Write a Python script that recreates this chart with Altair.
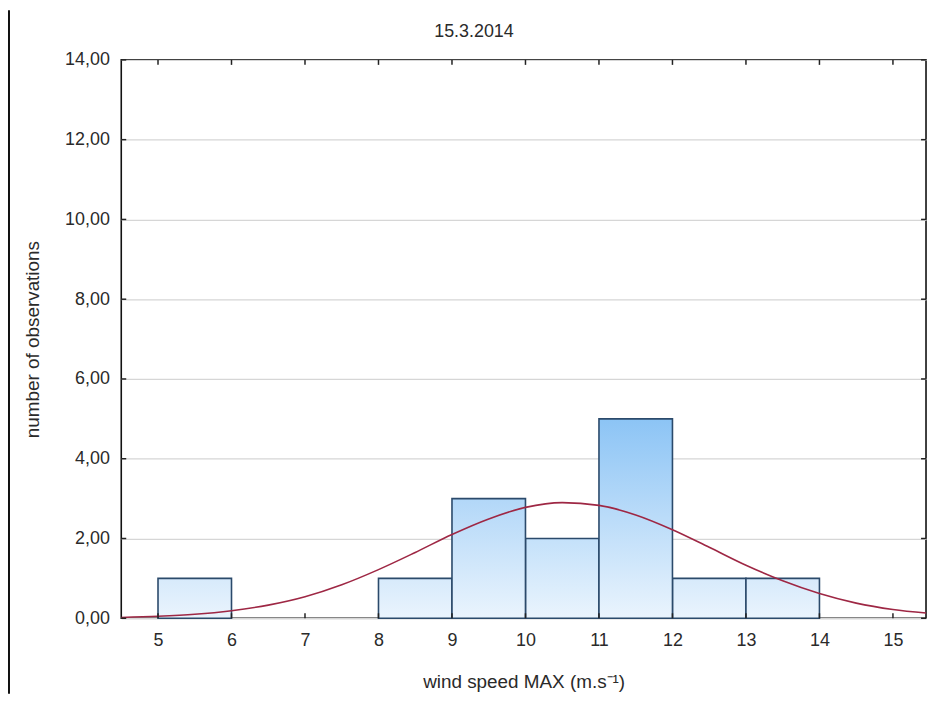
import altair as alt
import pandas as pd

# Histogram bins (wind speed MAX, m.s-1) and counts
bin_start = [5, 8, 9, 10, 11, 12, 13]
bin_end = [6, 9, 10, 11, 12, 13, 14]
counts = [1, 1, 3, 2, 5, 1, 1]

# Fitted normal curve
curve_x = [4.5, 5.0, 5.5, 6.0, 6.5, 7.0, 7.5, 8.0, 8.5, 9.0, 9.5, 10.0, 10.5,
           11.0, 11.5, 12.0, 12.5, 13.0, 13.5, 14.0, 14.5, 15.0, 15.45]
curve_y = [0.02, 0.05, 0.10, 0.19, 0.33, 0.54, 0.84, 1.22, 1.65, 2.10, 2.49, 2.78, 2.90,
           2.83, 2.59, 2.22, 1.78, 1.33, 0.94, 0.62, 0.38, 0.22, 0.13]

x_ticks = list(range(5, 16))
y_ticks = [0, 2, 4, 6, 8, 10, 12, 14]
title_text = ["15.3.2014"]

bars = pd.DataFrame({"start": bin_start, "end": bin_end, "count": counts})
curve = pd.DataFrame({"x": curve_x, "y": curve_y})
title_df = pd.DataFrame({"t": title_text})
xt_df = pd.DataFrame({"v": x_ticks})
yt_df = pd.DataFrame({"v": y_ticks})

W, H = 810, 562
xs = alt.Scale(domain=[4.5, 15.45], nice=False, zero=False)
ys = alt.Scale(domain=[0, 14], nice=False)

bottom_rgb = (234, 244, 253)
top_rgb = (140, 196, 245)


def mix(t):
    t = max(0.0, min(1.0, t))
    c = [round(b + (tp - b) * t) for b, tp in zip(bottom_rgb, top_rgb)]
    return "#%02x%02x%02x" % tuple(c)


FONT = "Liberation Sans"
FS = 18
xaxis = alt.Axis(values=x_ticks, title="wind speed MAX (m.s⁻¹)", grid=False, domain=False,
                 ticks=False, labelPadding=13, titlePadding=24, labelFontSize=FS,
                 titleFontSize=FS + 1, titleFontWeight="normal", labelColor="#2a2a2a",
                 titleColor="#2a2a2a", labelFont=FONT, titleFont=FONT)
yaxis = alt.Axis(values=y_ticks, title="number of observations", grid=True, gridColor="#d6d6d6",
                 gridWidth=1.3, domain=False, ticks=False, labelPadding=12, titlePadding=22,
                 labelExpr="replace(format(datum.value, '.2f'), '.', ',')",
                 labelFontSize=FS, titleFontSize=FS + 1, titleFontWeight="normal",
                 labelColor="#2a2a2a", titleColor="#2a2a2a",
                 labelFont=FONT, titleFont=FONT)

layers = []
for c in sorted(set(counts)):
    grad = alt.Gradient(gradient="linear",
                        stops=[alt.GradientStop(color=mix(c / 5.0), offset=0),
                               alt.GradientStop(color=mix(0.0), offset=1)],
                        x1=0, x2=0, y1=0, y2=1)
    layer = alt.Chart(bars).transform_filter(alt.datum["count"] == c).mark_rect(
        fill=grad, stroke="#2b4a6b", strokeWidth=1.6
    ).encode(
        x=alt.X("start:Q", scale=xs, axis=xaxis),
        x2="end:Q",
        y=alt.Y("count:Q", scale=ys, axis=yaxis),
        y2=alt.datum(0),
    )
    layers.append(layer)

line = alt.Chart(curve).mark_line(color="#9e2744", strokeWidth=1.6, interpolate="monotone").encode(
    x=alt.X("x:Q", scale=xs, axis=xaxis),
    y=alt.Y("y:Q", scale=ys, axis=yaxis),
)

# small inward tick marks on all four sides of the frame
tick_col = "#222"
xt_bottom = alt.Chart(xt_df).mark_rule(color=tick_col, strokeWidth=1.5).encode(
    x=alt.X("v:Q", scale=xs, axis=xaxis), y=alt.value(H), y2=alt.value(H - 5))
xt_top = alt.Chart(xt_df).mark_rule(color=tick_col, strokeWidth=1.5).encode(
    x=alt.X("v:Q", scale=xs, axis=xaxis), y=alt.value(0), y2=alt.value(5))
yt_left = alt.Chart(yt_df).mark_rule(color=tick_col, strokeWidth=1.5).encode(
    y=alt.Y("v:Q", scale=ys, axis=yaxis), x=alt.value(0), x2=alt.value(5))
yt_right = alt.Chart(yt_df).mark_rule(color=tick_col, strokeWidth=1.5).encode(
    y=alt.Y("v:Q", scale=ys, axis=yaxis), x=alt.value(W), x2=alt.value(W - 5))

title = alt.Chart(title_df).mark_text(font=FONT, fontSize=FS, color="#2a2a2a",
                                      align="center", baseline="middle").encode(
    text="t:N", x=alt.value(355), y=alt.value(-28)
)

left_border = alt.Chart(title_df).mark_rule(color="#111", strokeWidth=2).encode(
    x=alt.value(-113), y=alt.value(-50), y2=alt.value(H + 76)
)

chart = alt.layer(*layers, line, xt_bottom, xt_top, yt_left, yt_right, title, left_border).properties(
    width=W, height=H,
    autosize=alt.AutoSizeParams(type="none"),
    padding={"left": 114, "top": 50, "right": 2, "bottom": 76},
).configure(background="white").configure_view(stroke="#111", strokeWidth=1.6)

chart.save("out.html", embed_options={"renderer": "svg", "actions": False})
